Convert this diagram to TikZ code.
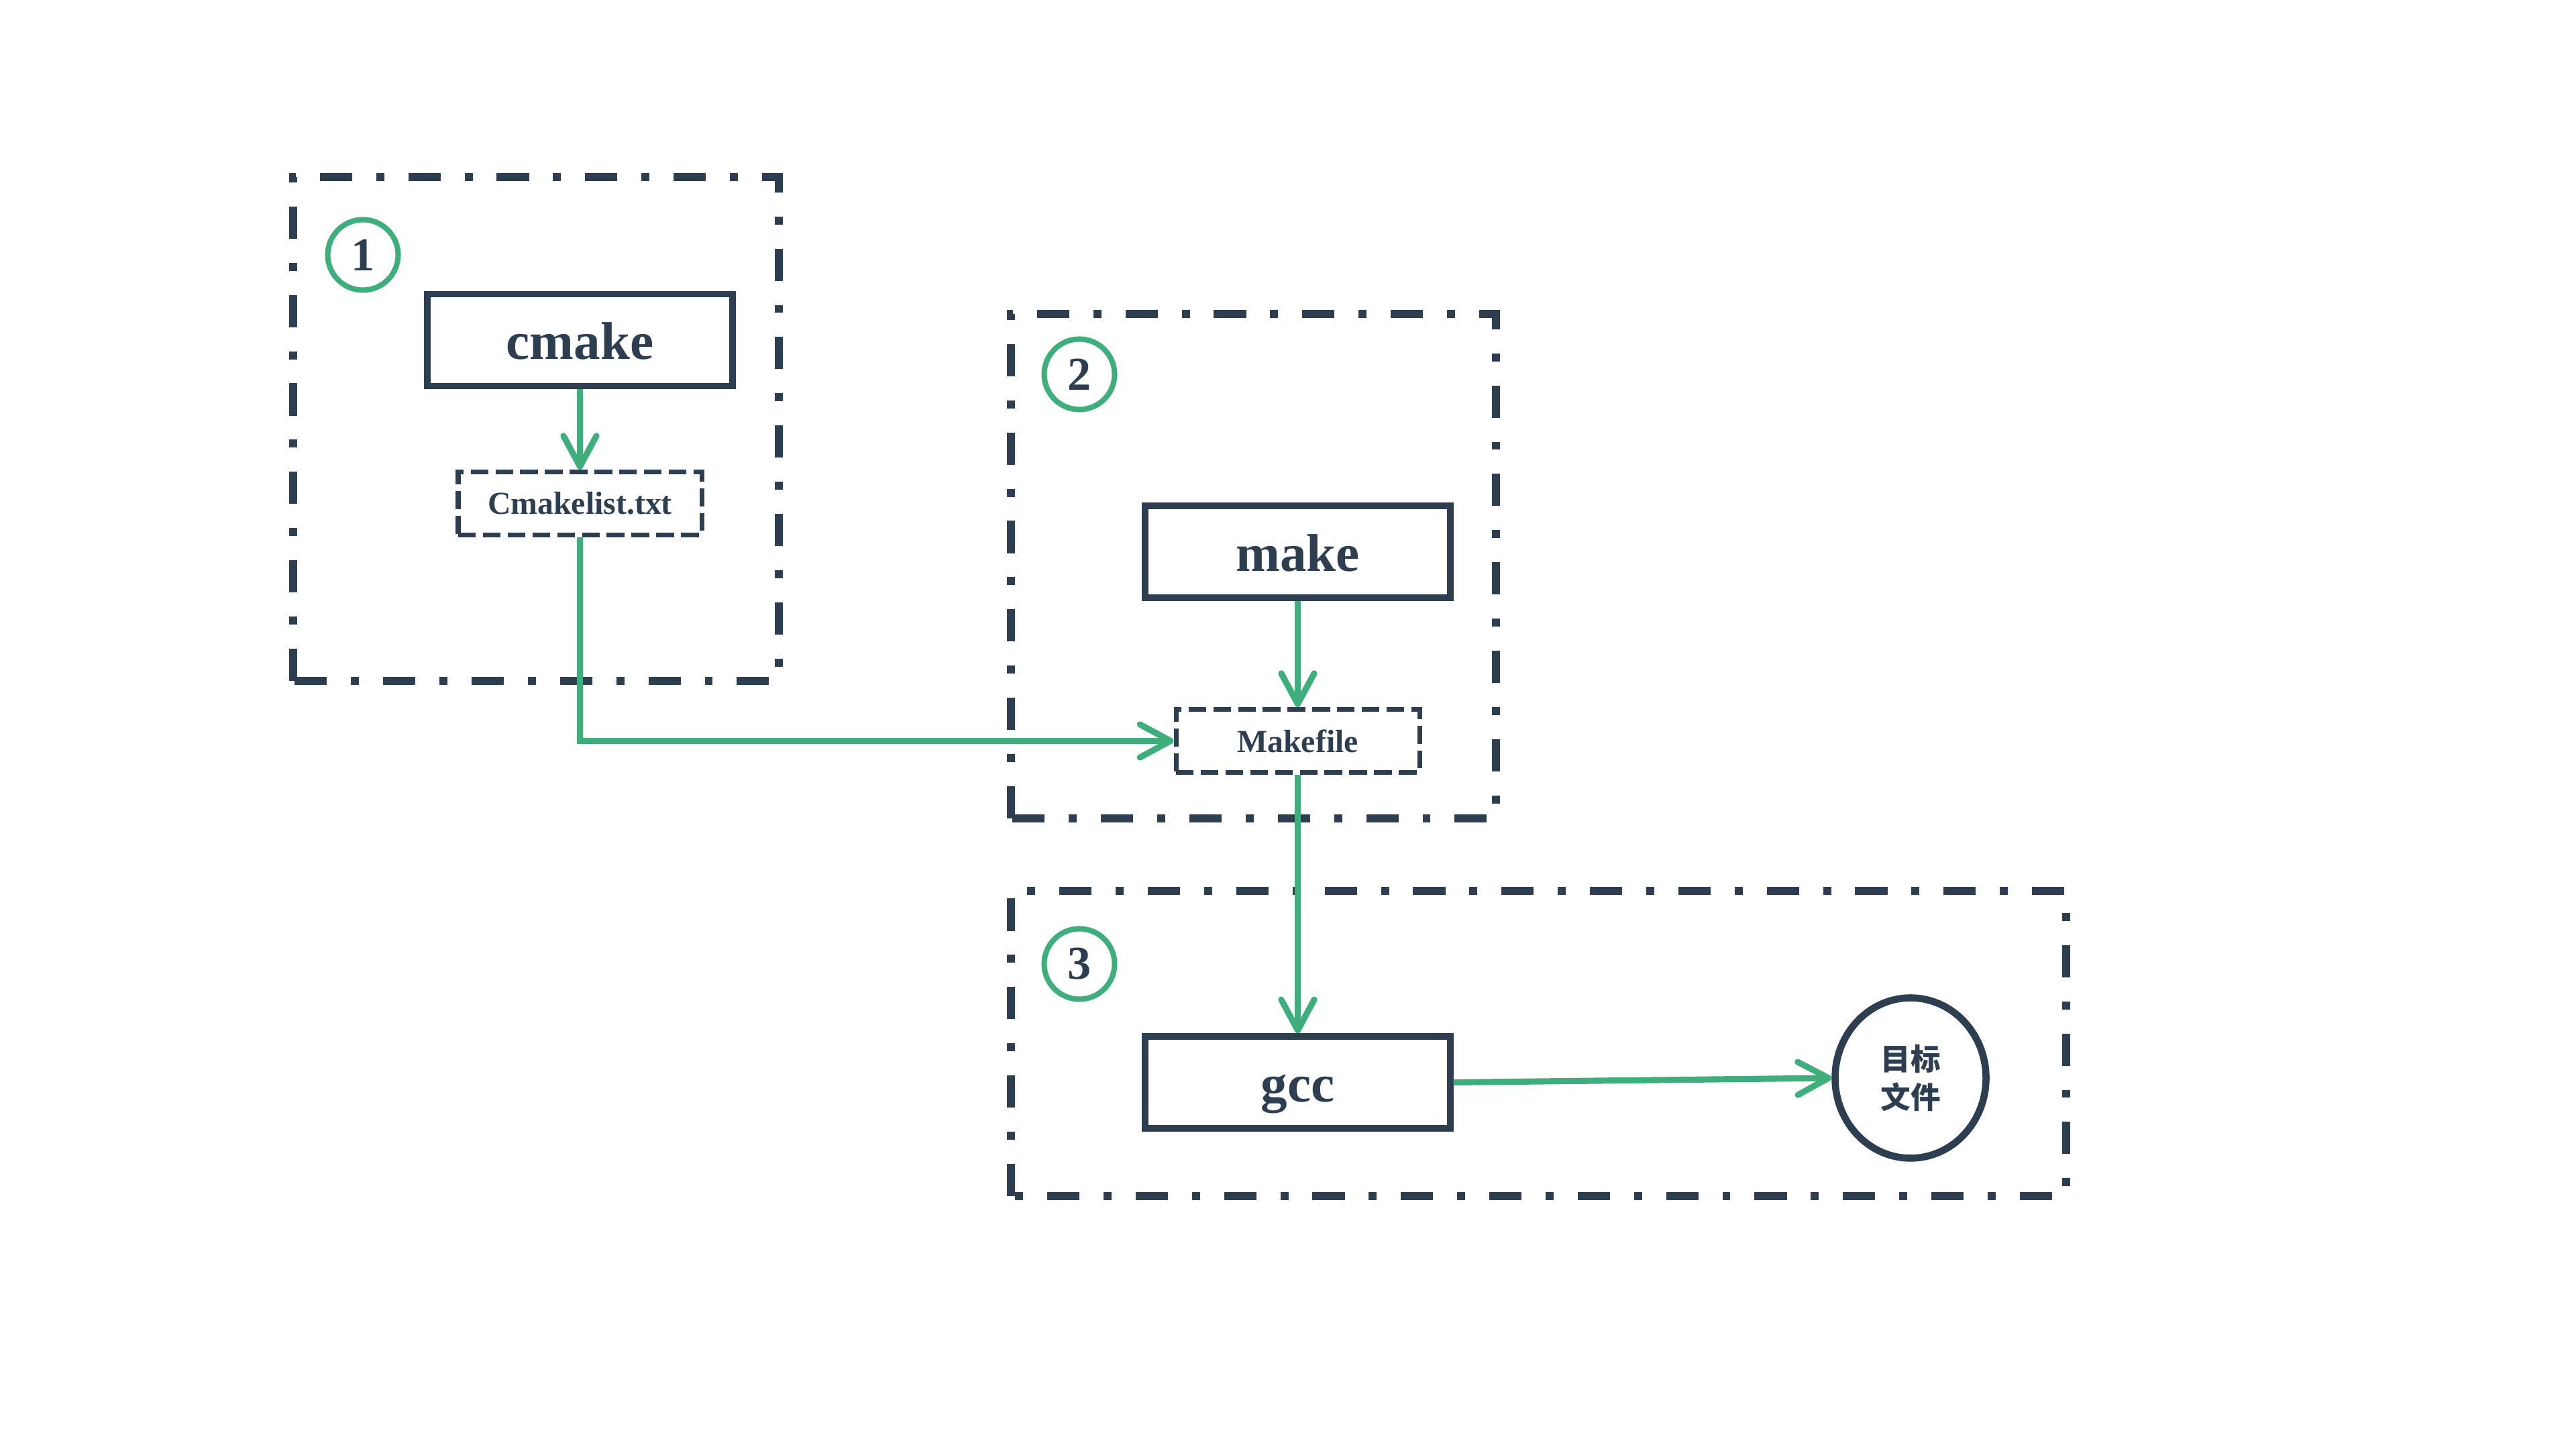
\documentclass[tikz,border=0pt]{standalone}
\usepackage{fontspec}
\setmainfont{Liberation Serif}
\newfontfamily\cjk{Noto Sans CJK SC}
\usetikzlibrary{arrows.meta,shapes.geometric}
\definecolor{navy}{HTML}{2C3E50}
\definecolor{vgreen}{HTML}{3EAF7C}

\begin{document}
\begin{tikzpicture}[
  stage/.style={draw=navy,line width=3.4pt,dash pattern=on 13.7pt off 10.2pt on 3.4pt off 10.2pt},
  tool/.style={draw=navy,line width=2.6pt,minimum width=4.55cm,minimum height=1.37cm,inner sep=0pt,text height=0.6cm,text depth=0.02cm,text=navy,font=\fontsize{22.5}{27}\selectfont\bfseries},
  file/.style={draw=navy,line width=2pt,dash pattern=on 7.5pt off 3pt,minimum width=3.63cm,minimum height=0.94cm,inner sep=0pt,text=navy,font=\fontsize{13.6}{16}\selectfont\bfseries},
  num/.style={circle,draw=vgreen,line width=2.3pt,minimum size=1.05cm,inner sep=0pt,text=navy,font=\fontsize{20}{24}\selectfont\bfseries},
  flow/.style={draw=vgreen,line width=2.6pt,-{Straight Barb[length=13pt,width=14pt,line cap=round,line join=round]}}]
\useasboundingbox (0,0) rectangle (38.4,21.6);
\draw[stage](4.37,11.45) rectangle (11.61,18.96);
\draw[stage](15.07,9.4) rectangle (22.3,16.92);
\draw[stage](15.07,3.77) rectangle (30.8,8.32);
\node[num](n1) at (5.41,17.8) {1};
\node[num](n2) at (16.09,16.02) {2};
\node[num](n3) at (16.09,7.23) {3};
\node[tool](cmake) at (8.645,16.53) {cmake};
\node[file](cml) at (8.645,14.095) {Cmakelist.txt};
\node[tool](make) at (19.345,13.375) {make};
\node[file](mkf) at (19.345,10.555) {Makefile};
\node[tool](gcc) at (19.345,5.465) {gcc};
\node[ellipse,draw=navy,line width=3pt,minimum width=2.25cm,minimum height=2.39cm,inner sep=0pt,align=center,text=navy,font=\cjk\bfseries\fontsize{12.7}{16}\selectfont](obj) at (28.48,5.53) {目标\\文件};
\draw[flow](cmake)--(cml);
\draw[flow](cml.south)|-(mkf.west);
\draw[flow](make)--(mkf);
\draw[flow](mkf)--(gcc);
\draw[flow](gcc.east)--(obj.west);
\end{tikzpicture}
\end{document}
